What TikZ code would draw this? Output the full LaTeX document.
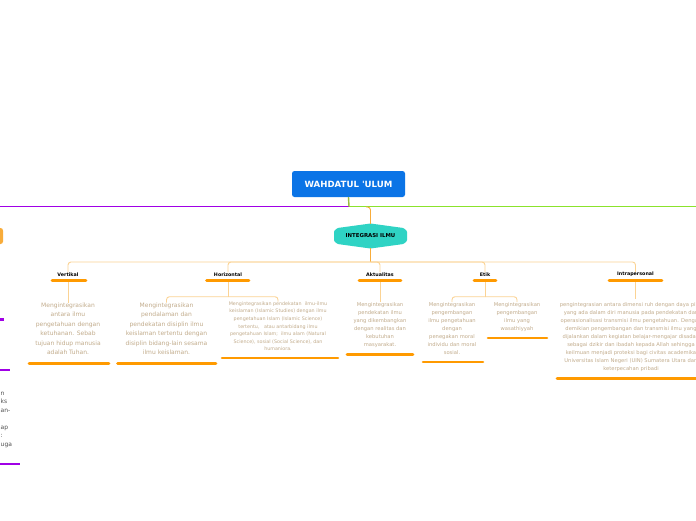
\documentclass[tikz,border=0pt]{standalone}
\usepackage{fontspec}
\setmainfont{DejaVu Sans}
\usetikzlibrary{calc}
\definecolor{rootblue}{HTML}{0B74E6}
\definecolor{hexteal}{HTML}{2FD3C4}
\definecolor{purp}{HTML}{A000E6}
\definecolor{limeg}{HTML}{8BE32C}
\definecolor{oliveg}{HTML}{9DBB3C}
\definecolor{orng}{HTML}{FF9A00}
\definecolor{orngmid}{HTML}{F8AC3A}
\definecolor{paleor}{HTML}{FBD394}
\definecolor{tanc}{HTML}{C2AC8C}
\definecolor{fragc}{HTML}{505050}
\begin{document}
\begin{tikzpicture}[x=1pt,y=-1pt,
  rootbox/.style={fill=rootblue, rounded corners=2.5pt, minimum width=113pt, minimum height=26pt, inner sep=0pt, text=white, font=\fontsize{8.6}{9}\selectfont\bfseries},
  lab/.style={inner sep=0pt, text=black, font=\fontsize{4.8}{5.5}\selectfont\bfseries},
  bodybig/.style={anchor=north, inner sep=0pt, align=center, text=tanc, font=\fontsize{6}{9.5}\selectfont},
  bodymid/.style={anchor=north, inner sep=0pt, align=center, text=tanc, font=\fontsize{5.2}{8}\selectfont},
  bodysmall/.style={anchor=north, inner sep=0pt, align=center, text=tanc, font=\fontsize{4.8}{7.6}\selectfont},
  uline/.style={orng, line width=2.6pt, line cap=round},
  conn/.style={paleor, line width=0.9pt, rounded corners=3pt},
  trunk/.style={orngmid, line width=0.9pt, rounded corners=3pt},
  purline/.style={purp, line width=2.6pt}
]
\useasboundingbox (0,0) rectangle (696,520);
\fill[white] (0,0) rectangle (696,520);

% root
\node[rootbox] (root) at (348.5,184) {WAHDATUL \textquotesingle ULUM};
\coordinate (rj) at (349,206.5);
\coordinate (pl) at (0,206.5);
\coordinate (gr) at (696,206.5);
\draw[purp, line width=1.2pt] (rj) -- (pl);
\draw[limeg, line width=1.2pt] (rj) -- (gr);
\draw[oliveg, line width=1.4pt] (root.south) -- (rj);

% hexagon
\path[fill=hexteal, rounded corners=1pt] (334,231) -- (337.5,228) -- (370.5,223.5) -- (403.5,228) -- (407,231) -- (407,241) -- (403.5,244) -- (370.5,248.5) -- (337.5,244) -- (334,241) -- cycle;
\node[inner sep=0pt, minimum width=73pt, minimum height=24pt, font=\fontsize{5.4}{6}\selectfont\bfseries] (hex) at (370.5,236) {INTEGRASI ILMU};
\coordinate (hj) at (366,207);
\draw[trunk] (hj) -| (hex.north);

% bus
\coordinate (bus) at (370.5,262);
\draw[trunk] (hex.south) -- (bus);

% labels
\node[lab] (vert) at (68,274.5) {Vertikal};
\node[lab] (hori) at (228,274.5) {Horizontal};
\node[lab] (aktu) at (380,274.5) {Aktualitas};
\node[lab] (etik) at (485,274.5) {Etik};
\node[lab] (intra) at (635.5,274.5) {Intrapersonal};
\foreach \n in {vert,hori,aktu,etik,intra} {\draw[conn] (bus) -| (\n.north);}

\draw[uline] (52,280.5) -- (86,280.5);
\draw[uline] (206.5,280.5) -- (249,280.5);
\draw[uline] (359,280.5) -- (401,280.5);
\draw[uline] (474,280.5) -- (496,280.5);
\draw[uline] (609,280.5) -- (662,280.5);

% bodies
\node[bodybig] (vb) at (68,302.5) {Mengintegrasikan\\antara ilmu\\pengetahuan dengan\\ketuhanan. Sebab\\tujuan hidup manusia\\adalah Tuhan.};
\node[bodybig] (hl) at (166.5,302.5) {Mengintegrasikan\\pendalaman dan\\pendekatan disiplin ilmu\\keislaman tertentu dengan\\disiplin bidang-lain sesama\\ilmu keislaman.};
\node[bodysmall] (hr) at (278,301.5) {Mengintegrasikan pendekatan\ \ ilmu-ilmu\\keislaman (Islamic Studies) dengan ilmu\\pengetahuan Islam (Islamic Science)\\tertentu,\ \ \ atau antarbidang ilmu\\pengetahuan Islam;\ \ ilmu alam (Natural\\Science), sosial (Social Science), dan\\humaniora.};
\node[bodymid] (ak) at (380,302) {Mengintegrasikan\\pendekatan ilmu\\yang dikembangkan\\dengan realitas dan\\kebutuhan\\masyarakat.};
\node[bodymid] (el) at (452,302) {Mengintegrasikan\\pengembangan\\ilmu pengetahuan\\dengan\\penegakan moral\\individu dan moral\\sosial.};
\node[bodymid] (er) at (517,302) {Mengintegrasikan\\pengembangan\\ilmu yang\\wasathiyyah};
\node[bodymid] (ip) at (631,302) {pengintegrasian antara dimensi ruh dengan daya pikir\\yang ada dalam diri manusia pada pendekatan dan\\operasionalisasi transmisi ilmu pengetahuan. Dengan\\demikian pengembangan dan transmisi ilmu yang\\dijalankan dalam kegiatan belajar-mengajar disadari\\sebagai dzikir dan ibadah kepada Allah sehingga\\keilmuan menjadi proteksi bagi civitas academika\\Universitas Islam Negeri (UIN) Sumatera Utara dari\\keterpecahan pribadi};

% connectors label -> body
\coordinate (vu) at (68,282);
\coordinate (hu) at (228,282);
\coordinate (au) at (380,282);
\coordinate (eu) at (485,282);
\coordinate (iu) at (635.5,282);
\coordinate (hbj) at (228,296.7);
\coordinate (ebj) at (485,296.7);
\draw[conn] (vu) -- (vb.north);
\draw[conn] (hu) -- (hbj);
\draw[conn] (hbj) -| (hl.north);
\draw[conn] (hbj) -| (hr.north);
\draw[conn] (au) -- (ak.north);
\draw[conn] (eu) -- (ebj);
\draw[conn] (ebj) -| (el.north);
\draw[conn] (ebj) -| (er.north);
\coordinate (ipt) at (635.5,299);
\draw[conn] (iu) -- (ipt);

% body underlines
\draw[uline] (29,363.3) -- (109,363.3);
\draw[uline] (117.5,363.3) -- (216,363.3);
\draw[uline] (222,358) -- (338,358);
\draw[uline] (347,354.3) -- (413,354.3);
\draw[uline] (423,362) -- (483,362);
\draw[uline] (488,338) -- (547,338);
\draw[uline] (557,378.3) -- (705,378.3);

% left cut-off branch
\fill[orngmid, rounded corners=2.5pt] (-12,228) rectangle (3,244);
\draw[purline] (-5,319.3) -- (4,319.3);
\draw[purline] (-5,370) -- (10,370);
\draw[purline] (-5,464) -- (20,464);
\node[anchor=north west, inner sep=0pt, align=left, text=fragc, font=\fontsize{6}{8.5}\selectfont] (frag) at (0.5,391.5) {n\\ks\\an-\\\mbox{}\\ap\\:\\uga};
\end{tikzpicture}
\end{document}
